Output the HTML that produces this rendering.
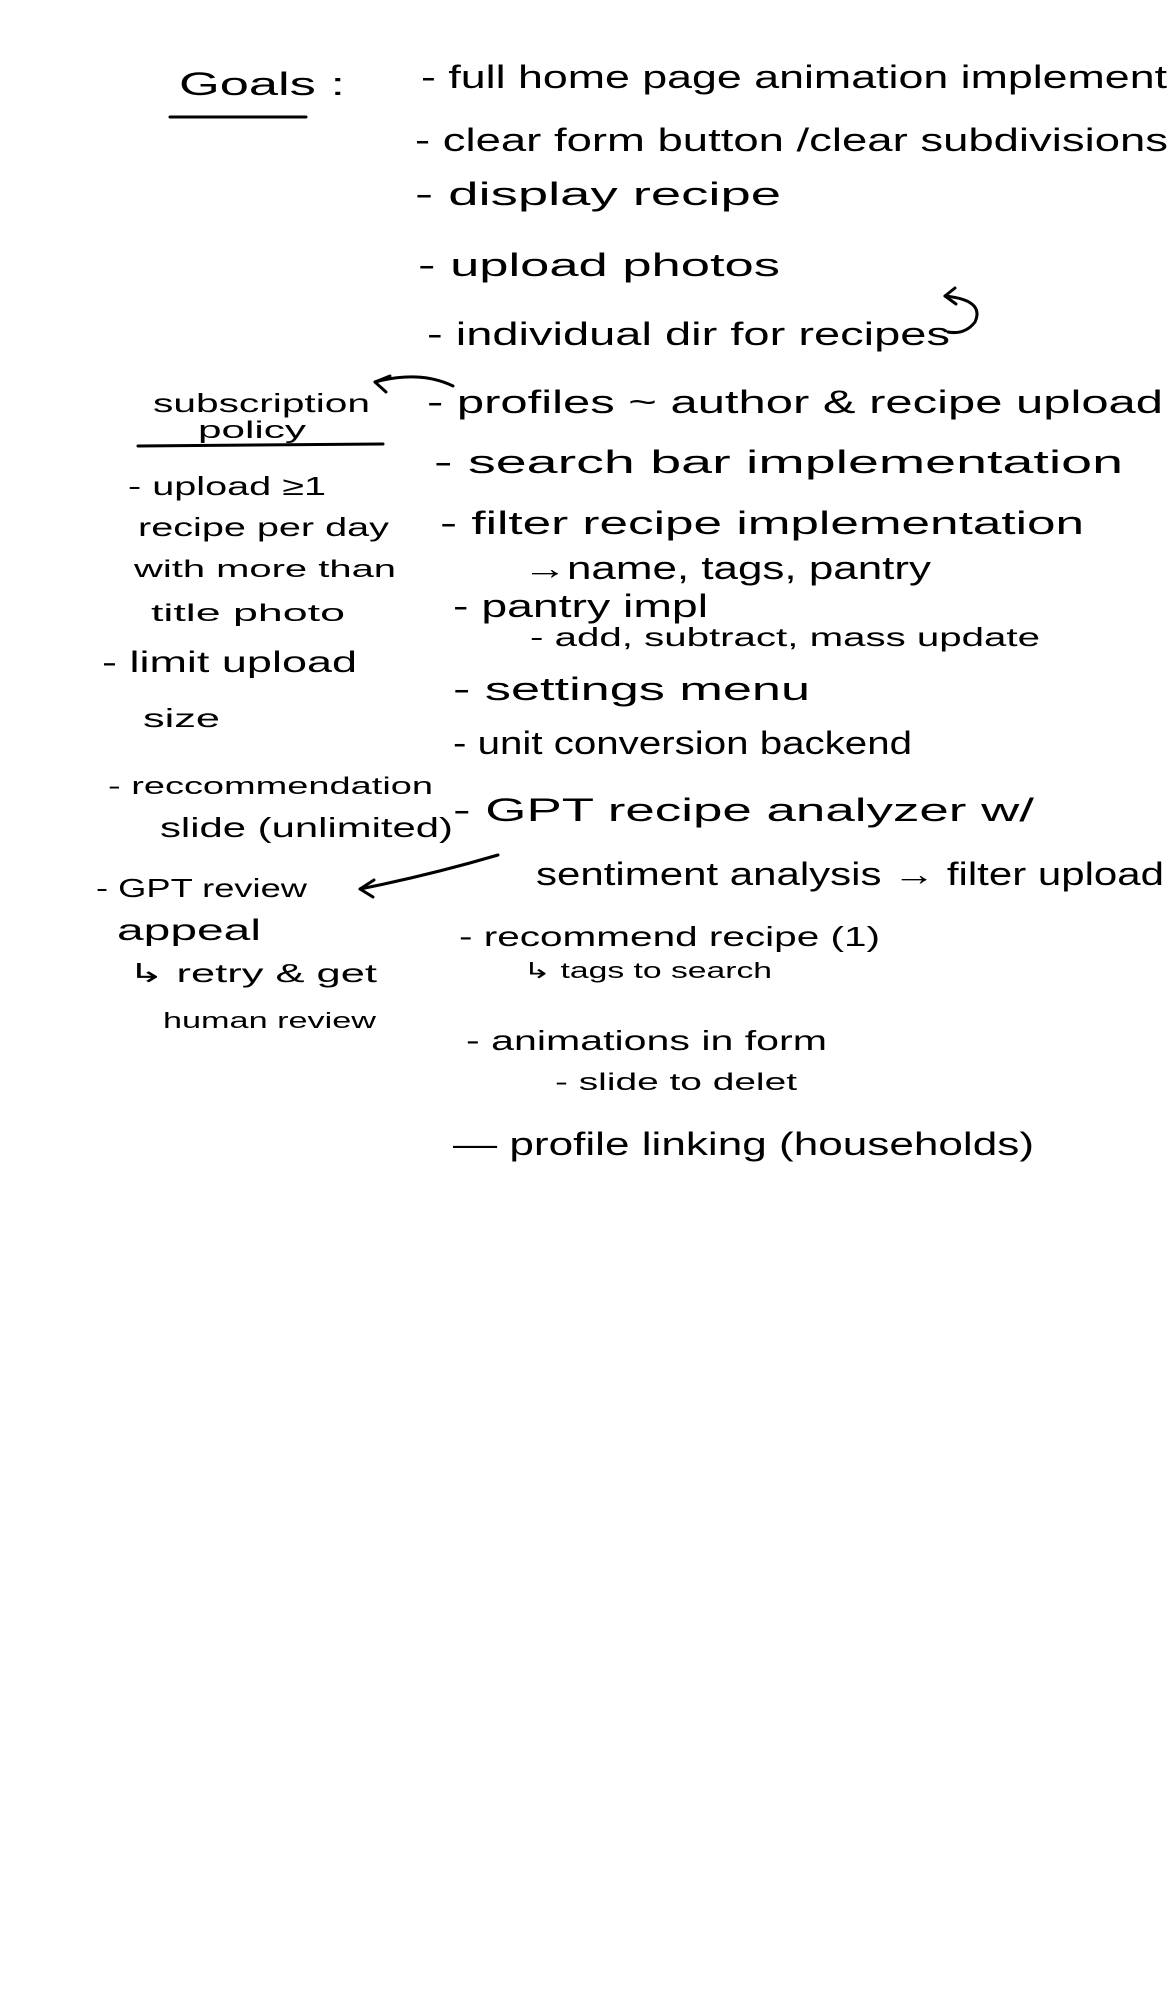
<!DOCTYPE html>
<html><head><meta charset="utf-8"><style>
html,body{margin:0;padding:0;background:#fff;}
svg{display:block;}
text{font-family:"Liberation Sans",sans-serif;fill:#000;}
</style></head><body>
<svg width="1174" height="2000" viewBox="0 0 1174 2000" xmlns="http://www.w3.org/2000/svg">
<g font-size="32">
<text x="179" y="95" textLength="166" lengthAdjust="spacingAndGlyphs">Goals :</text>
<text x="421" y="88" textLength="746" lengthAdjust="spacingAndGlyphs">- full home  page animation implement</text>
<text x="415" y="151" textLength="753" lengthAdjust="spacingAndGlyphs">- clear form button /clear subdivisions</text>
<text x="415" y="205" textLength="366" lengthAdjust="spacingAndGlyphs">- display  recipe</text>
<text x="418" y="276" textLength="362" lengthAdjust="spacingAndGlyphs">- upload photos</text>
<text x="427" y="345" textLength="523" lengthAdjust="spacingAndGlyphs">- individual dir for recipes</text>
<text x="427" y="413" textLength="736" lengthAdjust="spacingAndGlyphs">- profiles ~ author &amp; recipe upload</text>
<text x="434" y="473" textLength="689" lengthAdjust="spacingAndGlyphs">- search bar  implementation</text>
<text x="440" y="534" textLength="644" lengthAdjust="spacingAndGlyphs">- filter recipe  implementation</text>
<text x="523" y="579" textLength="408" lengthAdjust="spacingAndGlyphs">→name, tags, pantry</text>
<text x="453" y="617" textLength="255" lengthAdjust="spacingAndGlyphs">- pantry impl</text>
<text x="530" y="646" font-size="26" textLength="510" lengthAdjust="spacingAndGlyphs">- add, subtract, mass update</text>
<text x="453" y="700" textLength="357" lengthAdjust="spacingAndGlyphs">- settings  menu</text>
<text x="453" y="754" textLength="459" lengthAdjust="spacingAndGlyphs">- unit conversion backend</text>
<text x="453" y="821" textLength="581" lengthAdjust="spacingAndGlyphs">- GPT recipe analyzer  w/</text>
<text x="536" y="885" textLength="628" lengthAdjust="spacingAndGlyphs">sentiment analysis → filter upload</text>
<text x="459" y="946" font-size="28" textLength="421" lengthAdjust="spacingAndGlyphs">- recommend recipe (1)</text>
<text x="523" y="978" font-size="22" textLength="249" lengthAdjust="spacingAndGlyphs">↳ tags to search</text>
<text x="466" y="1050" font-size="28" textLength="361" lengthAdjust="spacingAndGlyphs">- animations in form</text>
<text x="555" y="1090" font-size="24" textLength="242" lengthAdjust="spacingAndGlyphs">- slide to delet</text>
<text x="453" y="1155" textLength="581" lengthAdjust="spacingAndGlyphs">— profile linking (households)</text>

<text x="153" y="412" font-size="26" textLength="217" lengthAdjust="spacingAndGlyphs">subscription</text>
<text x="198" y="438" font-size="24" textLength="108" lengthAdjust="spacingAndGlyphs">policy</text>
<text x="128" y="495" font-size="26" textLength="198" lengthAdjust="spacingAndGlyphs">- upload ≥1</text>
<text x="138" y="536" font-size="26" textLength="251" lengthAdjust="spacingAndGlyphs">recipe per day</text>
<text x="134" y="577" font-size="24" textLength="262" lengthAdjust="spacingAndGlyphs">with more than</text>
<text x="151" y="621" font-size="24" textLength="194" lengthAdjust="spacingAndGlyphs">title photo</text>
<text x="102" y="672" font-size="30" textLength="255" lengthAdjust="spacingAndGlyphs">- limit upload</text>
<text x="143" y="727" font-size="26" textLength="77" lengthAdjust="spacingAndGlyphs">size</text>
<text x="108" y="794" font-size="24" textLength="325" lengthAdjust="spacingAndGlyphs">- reccommendation</text>
<text x="160" y="837" font-size="28" textLength="293" lengthAdjust="spacingAndGlyphs">slide (unlimited)</text>
<text x="96" y="897" font-size="26" textLength="211" lengthAdjust="spacingAndGlyphs">- GPT review</text>
<text x="117" y="940" font-size="30" textLength="144" lengthAdjust="spacingAndGlyphs">appeal</text>
<text x="128" y="982" font-size="26" textLength="249" lengthAdjust="spacingAndGlyphs">↳ retry &amp; get</text>
<text x="163" y="1028" font-size="22" textLength="213" lengthAdjust="spacingAndGlyphs">human review</text>
</g>
<g stroke="#000" stroke-width="3" fill="none" stroke-linecap="round">
<path d="M170 117 L306 117"/>
<path d="M138 446 L383 444"/>
<path d="M453 386 Q420 370 375 382"/>
<path d="M375 382 L390 376 M375 382 L386 392"/>
<path d="M498 855 Q430 875 360 889"/>
<path d="M360 889 L374 880 M360 889 L373 897"/>
<path d="M945 296 Q985 300 975 322 Q965 335 948 332"/>
<path d="M945 296 L955 288 M945 296 L956 304"/>
</g>
</svg>
</body></html>
